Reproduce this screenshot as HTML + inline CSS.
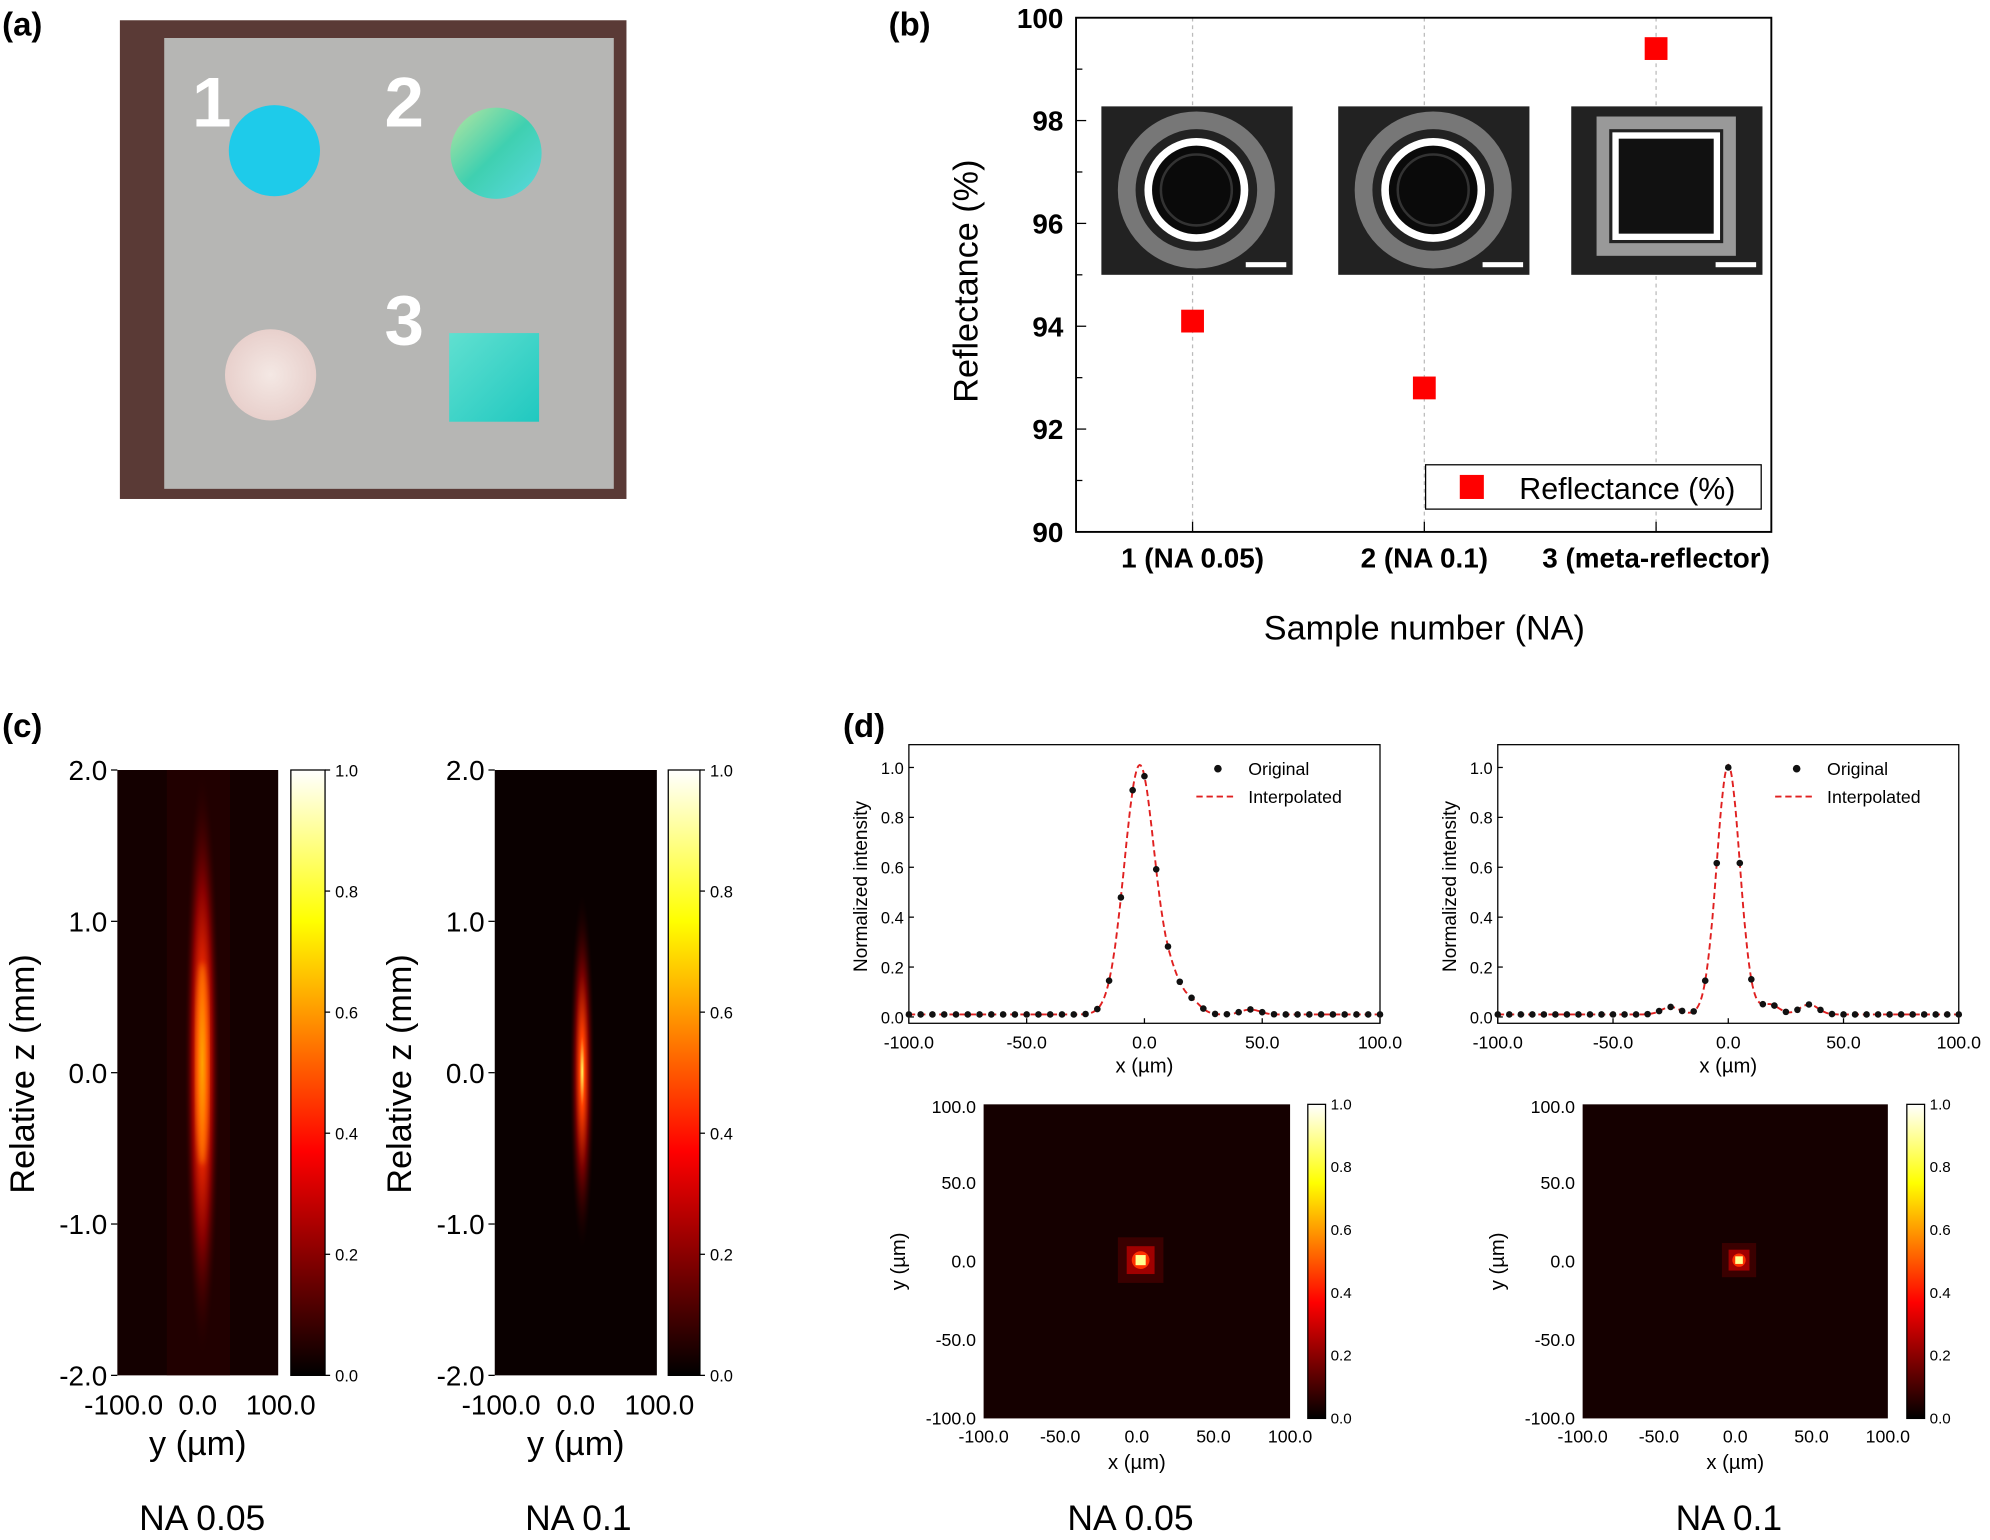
<!DOCTYPE html>
<html><head><meta charset="utf-8"><style>
html,body{margin:0;padding:0;background:#fff}
svg{display:block;font-family:"Liberation Sans",sans-serif}
</style></head><body>
<svg id="s" width="1990" height="1540" viewBox="0 0 1568 1216" xmlns="http://www.w3.org/2000/svg">
<defs>
<linearGradient id="hot" x1="0" y1="1" x2="0" y2="0">
<stop offset="0" stop-color="#000"/><stop offset="0.37" stop-color="#f00"/><stop offset="0.75" stop-color="#ff0"/><stop offset="1" stop-color="#fff"/>
</linearGradient>
<radialGradient id="beam1"><stop offset="0" stop-color="#ffd000"/><stop offset="0.25" stop-color="#ff3000"/><stop offset="0.6" stop-color="#800"/><stop offset="1" stop-color="#2a0000" stop-opacity="0"/></radialGradient>
<radialGradient id="beam2"><stop offset="0" stop-color="#ffff60"/><stop offset="0.2" stop-color="#ff4000"/><stop offset="0.55" stop-color="#700"/><stop offset="1" stop-color="#1a0000" stop-opacity="0"/></radialGradient>
<linearGradient id="c2" x1="0" y1="0" x2="1" y2="1"><stop offset="0" stop-color="#b8e6a0"/><stop offset="0.5" stop-color="#3fd0b0"/><stop offset="1" stop-color="#5ad8e0"/></linearGradient>
<linearGradient id="sq" x1="0" y1="0" x2="1" y2="1"><stop offset="0" stop-color="#60e0d0"/><stop offset="1" stop-color="#20c8c0"/></linearGradient>
<radialGradient id="c3"><stop offset="0" stop-color="#f4e8e4"/><stop offset="1" stop-color="#e8d0cc"/></radialGradient>
<filter id="bl"><feGaussianBlur stdDeviation="2"/></filter>
</defs>
<g font-weight="bold" font-size="26"><text x="0" y="28">(a)</text><text x="700" y="28">(b)</text><text x="0" y="582">(c)</text><text x="664" y="582">(d)</text></g>
<rect x="93" y="16" width="400" height="378" fill="#5a3a36"/>
<rect x="128" y="30" width="355" height="356" fill="#b6b6b4"/>
<circle cx="215" cy="119" r="36" fill="#1ecbea"/>
<circle cx="390" cy="121" r="36" fill="url(#c2)"/>
<circle cx="212" cy="296" r="36" fill="url(#c3)"/>
<rect x="353" y="263" width="71" height="70" fill="url(#sq)"/>
<g fill="#fff" font-weight="bold" font-size="56"><text x="150" y="100">1</text><text x="302" y="100">2</text><text x="302" y="272">3</text></g>
<g id="b"></g>
<rect x="848" y="14" width="549" height="406" fill="none" stroke="#000" stroke-width="1.5"/>
<rect x="91" y="608" width="127" height="478" fill="#140000"/>
<rect x="130" y="608" width="50" height="478" fill="#2a0000" opacity="0.6"/>
<ellipse cx="158" cy="840" rx="14" ry="230" fill="url(#beam1)"/>
<ellipse cx="158" cy="840" rx="5" ry="80" fill="#ff9000" opacity="0.7" filter="url(#bl)"/>
<rect x="389" y="608" width="128" height="478" fill="#0a0000"/>
<ellipse cx="458" cy="846" rx="10" ry="140" fill="url(#beam2)"/>
<rect x="228" y="608" width="27" height="478" fill="url(#hot)" stroke="#000"/>
<rect x="526" y="608" width="25" height="478" fill="url(#hot)" stroke="#000"/>
<g id="c"></g>
<g id="d"></g>
</svg>
<script>
var NS="http://www.w3.org/2000/svg";
function el(p,t,a,txt){var e=document.createElementNS(NS,t);for(var k in a)e.setAttribute(k,a[k]);if(txt!=null)e.textContent=txt;document.getElementById(p).appendChild(e);return e;}
for(var v=90;v<=100;v+=2){var y=420-(v-90)*40.6;el('b','text',{x:838,y:y+8,'text-anchor':'end','font-size':22,'font-weight':'bold'},v);el('b','line',{x1:848,x2:856,y1:y,y2:y,stroke:'#000'});}
for(var v=91;v<100;v+=2){var y=420-(v-90)*40.6;el('b','line',{x1:848,x2:853,y1:y,y2:y,stroke:'#000'});}
[[940,94.1,'1 (NA 0.05)'],[1123,92.8,'2 (NA 0.1)'],[1306,99.4,'3 (meta-reflector)']].forEach(function(p,i){
el('b','line',{x1:p[0],x2:p[0],y1:14,y2:420,stroke:'#bbb','stroke-dasharray':'3,3'});
el('b','line',{x1:p[0],x2:p[0],y1:412,y2:420,stroke:'#000'});
var y=420-(p[1]-90)*40.6;el('b','rect',{x:p[0]-9,y:y-9,width:18,height:18,fill:'#f00'});
el('b','text',{x:i==2?1306:p[0],y:448,'text-anchor':'middle','font-size':22,'font-weight':'bold'},p[2]);
});
[868,1055,1239].forEach(function(x,i){
el('b','rect',{x:x,y:84,width:151,height:133,fill:'#222'});
if(i<2){el('b','circle',{cx:x+75,cy:150,r:55,fill:'none',stroke:'#777','stroke-width':14});el('b','circle',{cx:x+75,cy:150,r:38,fill:'#0a0a0a',stroke:'#fff','stroke-width':6});el('b','circle',{cx:x+75,cy:150,r:28,fill:'none',stroke:'#333','stroke-width':2});}
else{el('b','rect',{x:x+25,y:97,width:100,height:100,fill:'none',stroke:'#999','stroke-width':10});el('b','rect',{x:x+35,y:107,width:80,height:80,fill:'#111',stroke:'#fff','stroke-width':5});}
el('b','rect',{x:x+114,y:207,width:32,height:4,fill:'#fff'});
});
el('b','rect',{x:1124,y:367,width:265,height:35,fill:'#fff',stroke:'#000'});
el('b','rect',{x:1151,y:375,width:19,height:19,fill:'#f00'});
el('b','text',{x:1198,y:394,'font-size':24},'Reflectance (%)');
el('b','text',{x:1123,y:505,'text-anchor':'middle','font-size':27},'Sample number (NA)');
el('b','text',{x:0,y:0,'font-size':27,'text-anchor':'middle',transform:'translate(770,222) rotate(-90)'},'Reflectance (%)');
[[91,218,228,255,158,'NA 0.05'],[389,517,526,551,455,'NA 0.1']].forEach(function(q){
var lab=['2.0','1.0','0.0','-1.0','-2.0'];
for(var i=0;i<5;i++){var y=608+i*119.5;el('c','text',{x:q[0]-8,y:y+8,'text-anchor':'end','font-size':22},lab[i]);el('c','line',{x1:q[0]-5,x2:q[0],y1:y,y2:y,stroke:'#000'});}
for(var i=0;i<=5;i++){var y=1086-i*95.6;el('c','text',{x:q[3]+8,y:y+5,'font-size':13},(i/5).toFixed(1));el('c','line',{x1:q[3],x2:q[3]+4,y1:y,y2:y,stroke:'#000'});}
var m=(q[0]+q[1])/2;
el('c','text',{x:q[0]+5,y:1117,'text-anchor':'middle','font-size':22},'-100.0');
el('c','text',{x:m,y:1117,'text-anchor':'middle','font-size':22},'0.0');
el('c','text',{x:q[1]+2,y:1117,'text-anchor':'middle','font-size':22},'100.0');
el('c','text',{x:m,y:1149,'text-anchor':'middle','font-size':27},'y (µm)');
el('c','text',{x:0,y:0,'text-anchor':'middle','font-size':27,transform:'translate('+(q[0]-66)+',848) rotate(-90)'},'Relative z (mm)');
el('c','text',{x:q[4],y:1208,'text-anchor':'middle','font-size':28},q[5]);
});
function prof(x,c,s,ex){var v=Math.exp(-Math.pow((x-c)/s,2)/2);ex.forEach(function(e){v+=e[1]*Math.exp(-Math.pow((x-e[0])/4,2)/2)});return v+0.01;}
[[716,1088,-2,6.5,[[12,0.1],[20,0.05],[45,0.02]],897,'NA 0.05',[775,1017,1031]],[1181,1545,0,5,[[-25,0.03],[18,0.04],[35,0.04]],1368,'NA 0.1',[1248,1489,1504]]].forEach(function(q){
var L=q[0],R=q[1],T=588,B=808,y0=803,sc=197;
function X(v){return L+(v+100)/200*(R-L)}function Y(v){return y0-v*sc}
el('d','rect',{x:L,y:T,width:R-L,height:B-T,fill:'none',stroke:'#000'});
for(var i=0;i<=5;i++){var v=i/5;el('d','text',{x:L-4,y:Y(v)+5,'text-anchor':'end','font-size':13},v.toFixed(1));el('d','line',{x1:L,x2:L+4,y1:Y(v),y2:Y(v),stroke:'#000'});}
[-100,-50,0,50,100].forEach(function(v){el('d','text',{x:X(v),y:B+20,'text-anchor':'middle','font-size':14},v.toFixed(1));el('d','line',{x1:X(v),x2:X(v),y1:B,y2:B-4,stroke:'#000'});});
el('d','text',{x:(L+R)/2,y:B+39,'text-anchor':'middle','font-size':16},'x (µm)');
el('d','text',{x:0,y:0,'text-anchor':'middle','font-size':15,transform:'translate('+(L-33)+',700) rotate(-90)'},'Normalized intensity');
var d='';for(var v=-100;v<=100;v+=0.5){d+=(v==-100?'M':'L')+X(v).toFixed(1)+','+Y(prof(v,q[2],q[3],q[4])).toFixed(1);}
el('d','path',{d:d,fill:'none',stroke:'#e02020','stroke-width':1.5,'stroke-dasharray':'5,3'});
for(var v=-100;v<=100;v+=5){var pv=prof(v,q[2],q[3],q[4]);if(Math.abs(v-q[2])<3)pv=Math.min(pv,1);el('d','circle',{cx:X(v),cy:Y(pv),r:2.6,fill:'#111'});}
el('d','circle',{cx:R-128,cy:607,r:3,fill:'#111'});el('d','text',{x:R-104,y:612,'font-size':14},'Original');
el('d','line',{x1:R-145,x2:R-113,y1:629,y2:629,stroke:'#e02020','stroke-dasharray':'5,3','stroke-width':1.5});el('d','text',{x:R-104,y:634,'font-size':14},'Interpolated');
var h=q[7],hl=h[0],hr=h[1],ht=872,hb=1120;
el('d','rect',{x:hl,y:ht,width:hr-hl,height:hb-ht,fill:'#150000'});
var cx=(hl+hr)/2+3,cy=995;
var s=q[6]=='NA 0.05'?1:0.75;
el('d','rect',{x:cx-18*s,y:cy-18*s,width:36*s,height:36*s,fill:'#3a0000'});
el('d','rect',{x:cx-11*s,y:cy-11*s,width:22*s,height:22*s,fill:'#a00000'});
el('d','circle',{cx:cx,cy:cy,r:7*s,fill:'#ff3000'});
el('d','rect',{x:cx-4*s,y:cy-4*s,width:8*s,height:8*s,fill:'#ffff90'});
el('d','rect',{x:h[2],y:ht,width:14,height:hb-ht,fill:'url(#hot)',stroke:'#000'});
for(var i=0;i<=5;i++){var y=hb-i*(hb-ht)/5;el('d','text',{x:h[2]+18,y:y+4,'font-size':12},(i/5).toFixed(1));}
['100.0','50.0','0.0','-50.0','-100.0'].forEach(function(t,i){var y=ht+i*(hb-ht)/4+(i==0?2:0);el('d','text',{x:hl-6,y:y+5,'text-anchor':'end','font-size':14},t);});
['-100.0','-50.0','0.0','50.0','100.0'].forEach(function(t,i){el('d','text',{x:hl+i*(hr-hl)/4,y:hb+19,'text-anchor':'middle','font-size':14},t);});
el('d','text',{x:(hl+hr)/2,y:hb+40,'text-anchor':'middle','font-size':16},'x (µm)');
el('d','text',{x:0,y:0,'text-anchor':'middle','font-size':16,transform:'translate('+(hl-62)+',996) rotate(-90)'},'y (µm)');
el('d','text',{x:(hl+hr)/2-5,y:1208,'text-anchor':'middle','font-size':28},q[6]);
});
</script>
</body></html>
